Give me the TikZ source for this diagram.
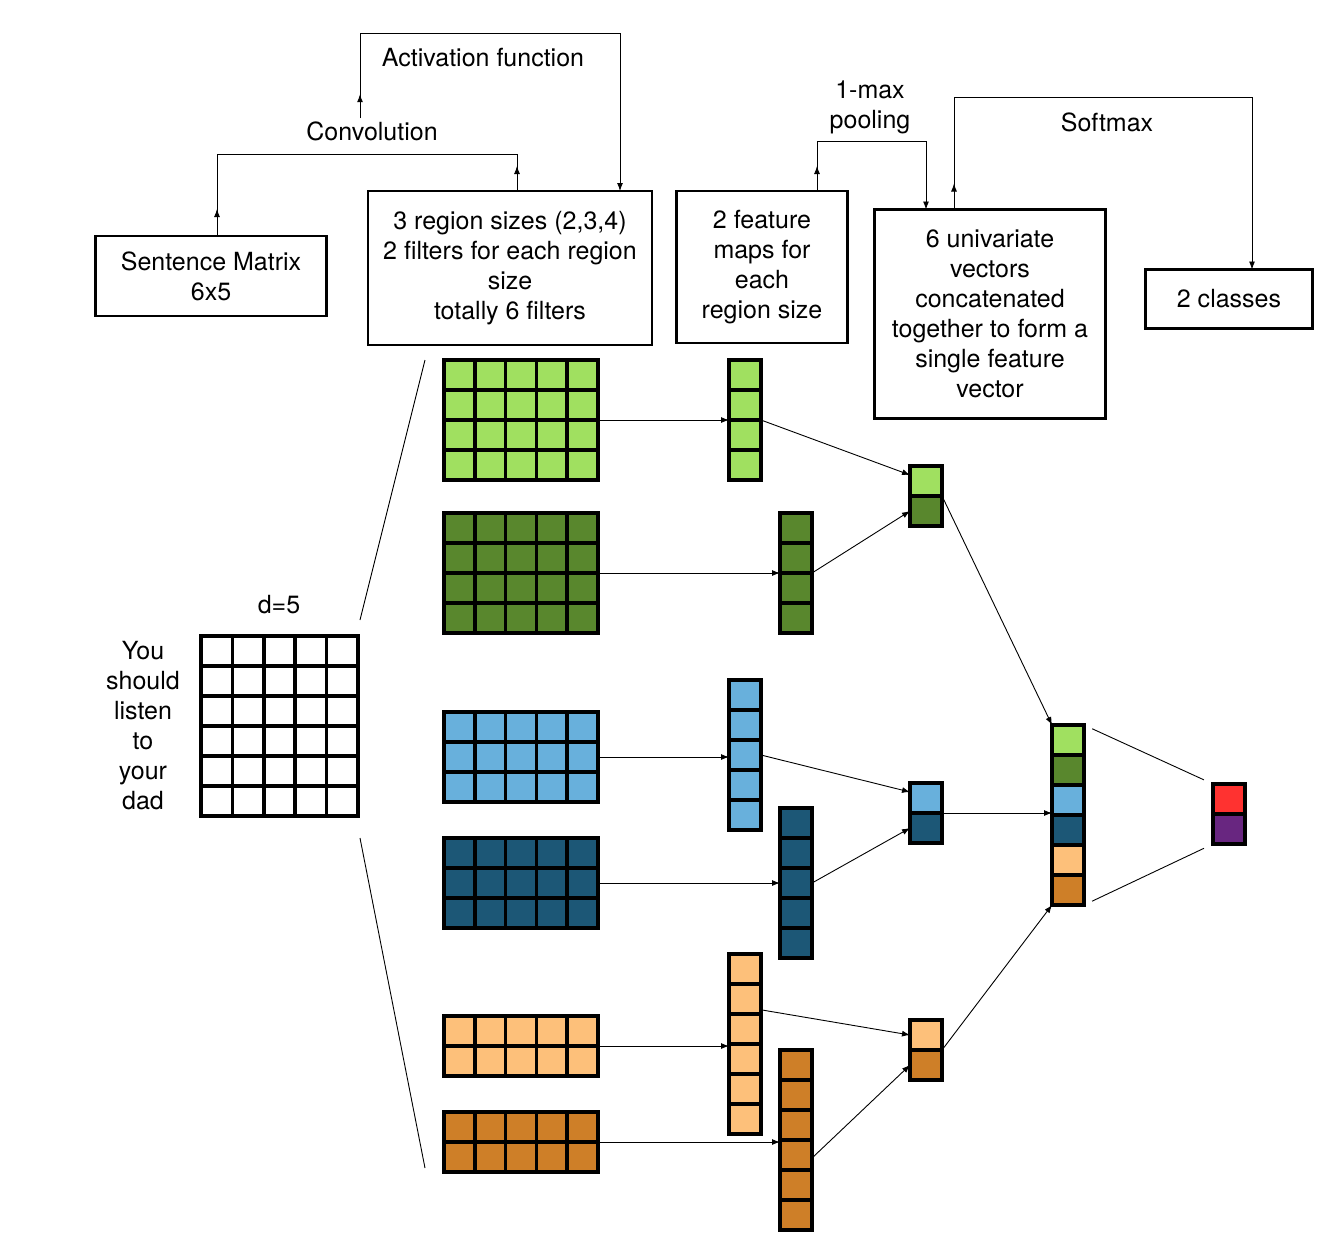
\documentclass[tikz,border=0pt]{standalone}
\usepackage{fontspec}
\setmainfont{TeX Gyre Heros}
\usepackage{tikz}
\usetikzlibrary{positioning, arrows.meta, calc}
\definecolor{lgreen}{RGB}{160,224,96}
\definecolor{dgreen}{RGB}{89,135,45}
\definecolor{lblue}{RGB}{104,176,220}
\definecolor{dblue}{RGB}{28,87,118}
\definecolor{lorange}{RGB}{253,192,122}
\definecolor{dorange}{RGB}{206,127,40}
\definecolor{outred}{RGB}{255,50,48}
\definecolor{outpurple}{RGB}{104,38,128}

\begin{document}
\begin{tikzpicture}[
  x=1pt, y=-1pt,
  font=\fontsize{25}{30}\selectfont,
  box/.style={draw, line width=2.5pt, align=center, inner sep=0pt, outer sep=0pt},
  blk/.style={inner sep=0pt, outer sep=0pt},
  gl/.style={line width=3.5pt, line cap=rect},
  cell/.style={draw, line width=3.5pt, minimum width=32pt, minimum height=30pt,
               inner sep=0pt, outer sep=0pt},
  flow/.style={line width=0.9pt},
  tip/.style={flow, -{Latex[length=8pt, width=6pt]}},
  lab/.style={align=center, inner sep=1pt}]

  \useasboundingbox (0,0) rectangle (1329,1251);

  \node[box, minimum width=231pt, minimum height=80pt]  (sm) at ( 211, 276) {Sentence Matrix\\6x5};
  \node[box, minimum width=284pt, minimum height=154pt] (rg) at ( 510, 268) {3 region sizes (2,3,4)\\2 filters for each region\\size\\totally 6 filters};
  \node[box, minimum width=171pt, minimum height=152pt] (fm) at ( 762, 267) {2 feature\\maps for\\each\\region size};
  \node[box, minimum width=231pt, minimum height=209pt] (cc) at ( 990, 314) {6 univariate\\vectors\\concatenated\\together to form a\\single feature\\vector};
  \node[box, minimum width=167pt, minimum height=59pt]  (cl) at (1229, 299) {2 classes};

  \node[lab] (conv) at ( 372, 131) {Convolution};
  \node[lab] (actf) at ( 483,  58) {Activation function};
  \node[lab] (pool) at ( 870, 107) {1-max\\pooling};
  \node[lab] (soft) at (1107, 122) {Softmax};
  \node[lab] (dim)  at ( 279, 605) {d=5};
  \node[lab] (words) at (143, 726) {You\\should\\listen\\to\\your\\dad};

  \draw[flow] ([xshift=6pt]sm.north) -- ++(0,-82) -| ([xshift=7pt]rg.north);
  \draw[tip] ([xshift=6pt]sm.north) -- ++(0,-27);
  \draw[tip] ([xshift=7pt]rg.north) -- ++(0,-25);

  \draw[tip] ([xshift=-12pt, yshift=2pt]conv.north) -- ++(0,-85) -| ([xshift=110pt]rg.north);
  \draw[tip] ([xshift=-12pt, yshift=2pt]conv.north) -- ++(0,-24);

  \draw[tip] ([xshift=55pt]fm.north) -- ++(0,-50) -| ([xshift=-64pt]cc.north);
  \draw[tip] ([xshift=55pt]fm.north) -- ++(0,-25);

  \draw[tip] ([xshift=-36pt]cc.north) -- ++(0,-112) -| ([xshift=23pt]cl.north);
  \draw[tip] ([xshift=-36pt]cc.north) -- ++(0,-26);

  \foreach \nm/\cx/\cy/\w/\h/\nc/\nr/\clr in {
      s/279.5/726/157/180/5/6/white,
      f1/521/420/154/120/5/4/lgreen,   f2/521/573/154/120/5/4/dgreen,
      f3/521/757/154/90/5/3/lblue,     f4/521/883/154/90/5/3/dblue,
      f5/521/1046/154/60/5/2/lorange,  f6/521/1142/154/60/5/2/dorange,
      m1/745/420/32/120/1/4/lgreen,    m2/796/573/32/120/1/4/dgreen,
      m3/745/755/32/150/1/5/lblue,     m4/796/883/32/150/1/5/dblue,
      m5/745/1044/32/180/1/6/lorange,  m6/796/1140/32/180/1/6/dorange}
  {
    \node[blk, fill=\clr, minimum width=\w pt, minimum height=\h pt] (\nm) at (\cx,\cy) {};
    \foreach \i in {0,...,\nc}
      \draw[gl] ($(\nm.north west)!\i/\nc!(\nm.north east)$) -- ($(\nm.south west)!\i/\nc!(\nm.south east)$);
    \foreach \j in {0,...,\nr}
      \draw[gl] ($(\nm.north west)!\j/\nr!(\nm.south west)$) -- ($(\nm.north east)!\j/\nr!(\nm.south east)$);
  }

  \node[cell, fill=lgreen]  (p1a) at (926,  481) {};
  \node[cell, fill=dgreen]  (p1b) at (926,  511) {};
  \node[cell, fill=lblue]   (p2a) at (926,  798) {};
  \node[cell, fill=dblue]   (p2b) at (926,  828) {};
  \node[cell, fill=lorange] (p3a) at (926, 1035) {};
  \node[cell, fill=dorange] (p3b) at (926, 1065) {};
  \foreach \clr [count=\k] in {lgreen,dgreen,lblue,dblue,lorange,dorange}
    \node[cell, fill=\clr] (c\k) at (1068, 710+30*\k) {};
  \node[cell, fill=outred]    (o1) at (1229, 799) {};
  \node[cell, fill=outpurple] (o2) at (1229, 829) {};

  \coordinate (fanA) at (425, 360);
  \coordinate (fanB) at (360, 620);
  \coordinate (fanC) at (360, 838);
  \coordinate (fanD) at (425, 1168);
  \draw[flow] (fanA) -- (fanB);
  \draw[flow] (fanC) -- (fanD);

  \draw[tip] (f1.east) -- (f1.east -| m1.west);
  \draw[tip] (f2.east) -- (f2.east -| m2.west);
  \draw[tip] (f3.east) -- (f3.east -| m3.west);
  \draw[tip] (f4.east) -- (f4.east -| m4.west);
  \draw[tip] (f5.east) -- (f5.east -| m5.west);
  \draw[tip] (f6.east) -- (f6.east -| m6.west);

  \draw[tip] (m1.east) -- ([yshift=6pt]p1a.west);
  \draw[tip] (m2.east) -- (p1b.west);
  \draw[tip] (m3.east) -- ([yshift=6pt]p2a.west);
  \draw[tip] (m4.east) -- (p2b.west);
  \draw[tip] ($(m5.north east)!0.31!(m5.south east)$) -- (p3a.west);
  \draw[tip] ($(m6.north east)!0.6!(m6.south east)$) -- (p3b.west);

  \draw[tip] (p1a.south east) -- (c1.north west);
  \draw[tip] (p2a.south east) -- (p2a.south east -| c3.west);
  \draw[tip] (p3a.south east) -- (c6.south west);

  \draw[flow, shorten <=9pt, shorten >=10pt] (c1.north east) -- (o1.north west);
  \draw[flow, shorten <=9pt, shorten >=10pt] (c6.south east) -- (o2.south west);
\end{tikzpicture}
\end{document}
